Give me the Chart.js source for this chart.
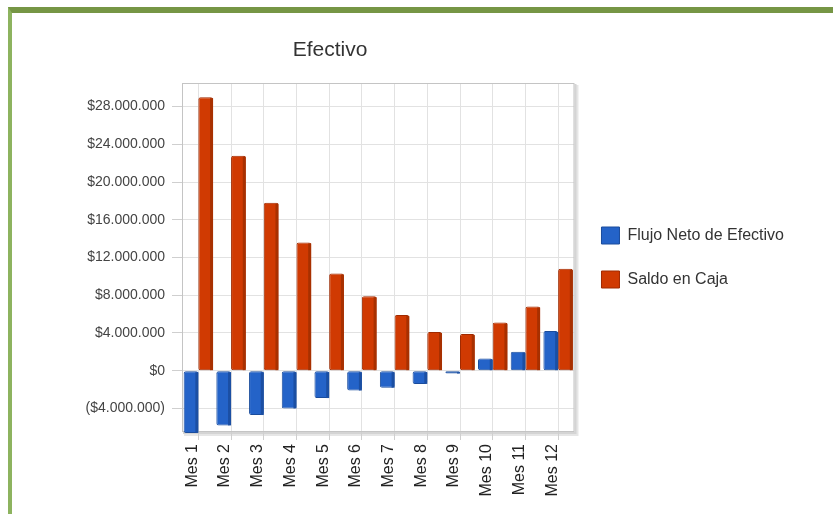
<!DOCTYPE html>
<html>
<head>
<meta charset="utf-8">
<script src="https://cdn.jsdelivr.net/npm/chart.js@4"></script>
<style>
  html, body { margin: 0; padding: 0; background: #fff; }
  #wrap { position: relative; width: 833px; height: 514px; overflow: hidden; }
  #wrap canvas { position: absolute; left: 0; top: 0; }
  #frame {
    position: absolute; left: 8px; top: 7px; width: 840px; height: 520px;
    border-top: 6px solid #769645; border-left: 4px solid #8db35f;
    box-sizing: border-box; pointer-events: none;
  }
</style>
</head>
<body>
<div id="wrap">
  <canvas id="chart" width="833" height="514"></canvas>
  <div id="frame"></div>
</div>
<script>
// Chart content
const TITLE = 'Efectivo';
const MESES = ['Mes 1', 'Mes 2', 'Mes 3', 'Mes 4', 'Mes 5', 'Mes 6',
               'Mes 7', 'Mes 8', 'Mes 9', 'Mes 10', 'Mes 11', 'Mes 12'];
const FLUJO_NETO = [-6600000, -5800000, -4700000, -4000000, -2900000, -2100000,
                    -1800000, -1400000, -300000, 1300000, 2000000, 4200000];
const SALDO_CAJA = [29000000, 22800000, 17800000, 13600000, 10300000, 7900000,
                    5900000, 4100000, 3900000, 5100000, 6800000, 10800000];
const SERIES_NAMES = ['Flujo Neto de Efectivo', 'Saldo en Caja'];
const Y_TICKS = [-4000000, 0, 4000000, 8000000, 12000000, 16000000,
                 20000000, 24000000, 28000000];
const Y_MIN = -6500000;
const Y_MAX = 30500000;

const FONT = '"Liberation Sans", Arial, sans-serif';

function pesos(v) {
  const s = Math.abs(v).toString().replace(/\B(?=(\d{3})+(?!\d))/g, '.');
  return v < 0 ? '($' + s + ')' : '$' + s;
}

// White plot panel with a soft drop shadow, and a grey outline on top of the grid
const plotFrame = {
  id: 'plotFrame',
  beforeDraw(chart) {
    const { ctx, chartArea: a } = chart;
    ctx.save();
    ctx.fillStyle = '#e6e6e6';
    ctx.fillRect(a.left + 2, a.top + 2, a.right - a.left + 2, a.bottom - a.top + 2);
    ctx.fillStyle = '#d4d4d4';
    ctx.fillRect(a.left + 1, a.top + 1, a.right - a.left + 1, a.bottom - a.top + 1);
    ctx.fillStyle = '#ffffff';
    ctx.fillRect(a.left, a.top, a.right - a.left, a.bottom - a.top);
    ctx.restore();
  },
  beforeDatasetsDraw(chart) {
    const { ctx, chartArea: a } = chart;
    ctx.save();
    ctx.strokeStyle = '#c4c4c4';
    ctx.lineWidth = 1;
    ctx.strokeRect(a.left + 0.5, a.top + 0.5, a.right - a.left - 1, a.bottom - a.top - 1);
    ctx.restore();
  }
};

// Darker side face on every bar for a raised look
const barSide = {
  id: 'barSide',
  afterDatasetsDraw(chart) {
    const ctx = chart.ctx;
    chart.data.datasets.forEach((ds, i) => {
      const meta = chart.getDatasetMeta(i);
      meta.data.forEach(bar => {
        const { x, y, base, width } = bar.getProps(['x', 'y', 'base', 'width'], true);
        const top = Math.min(y, base);
        const h = Math.abs(base - y);
        if (h < 1) return;
        ctx.save();
        ctx.fillStyle = ds.sideColor;
        ctx.fillRect(x + width / 2 - 3, top + 1, 3, h - 1);
        ctx.restore();
      });
    });
  }
};

// Chart heading, centred over the axis labels and plot
const heading = {
  id: 'heading',
  afterDraw(chart) {
    const ctx = chart.ctx;
    ctx.save();
    ctx.font = '21px ' + FONT;
    ctx.fillStyle = '#333';
    ctx.textAlign = 'center';
    ctx.textBaseline = 'middle';
    ctx.fillText(TITLE, 330, 50);
    ctx.restore();
  }
};

new Chart(document.getElementById('chart'), {
  type: 'bar',
  data: {
    labels: MESES,
    datasets: [
      {
        label: SERIES_NAMES[0],
        data: FLUJO_NETO,
        backgroundColor: '#2463c8',
        borderColor: '#1a4c9c',
        sideColor: '#1b4fa3',
        borderWidth: 1,
        borderRadius: 2,
        borderSkipped: false,
        clip: 4
      },
      {
        label: SERIES_NAMES[1],
        data: SALDO_CAJA,
        backgroundColor: '#d03a02',
        borderColor: '#a02a00',
        sideColor: '#a83000',
        borderWidth: 1,
        borderRadius: 2,
        borderSkipped: false,
        clip: 4
      }
    ]
  },
  options: {
    responsive: false,
    animation: false,
    events: [],
    layout: { padding: { top: 83, left: 0, right: 39, bottom: 0 } },
    datasets: { bar: { categoryPercentage: 0.9, barPercentage: 1.0 } },
    scales: {
      x: {
        afterFit(scale) { scale.height = 82; },
        grid: {
          offset: false,
          color: '#e2e2e2',
          tickColor: '#cfcfcf',
          tickLength: 8,
          drawTicks: true
        },
        border: { display: false },
        ticks: {
          minRotation: 90,
          maxRotation: 90,
          autoSkip: false,
          padding: 4,
          labelOffset: -6,
          color: '#222',
          font: { family: FONT, size: 16 }
        }
      },
      y: {
        min: Y_MIN,
        max: Y_MAX,
        afterFit(scale) { scale.width = 182; },
        afterBuildTicks(scale) { scale.ticks = Y_TICKS.map(v => ({ value: v })); },
        grid: {
          color: '#e2e2e2',
          tickColor: '#cfcfcf',
          tickLength: 10
        },
        border: { display: false },
        ticks: {
          padding: 7,
          color: '#444',
          font: { family: FONT, size: 14 },
          callback: v => pesos(v)
        }
      }
    },
    plugins: {
      title: { display: false },
      tooltip: { enabled: false },
      legend: {
        position: 'right',
        fullSize: false,
        maxWidth: 260,
        labels: {
          boxWidth: 18,
          boxHeight: 17,
          padding: 27,
          color: '#333',
          font: { family: FONT, size: 16, lineHeight: 1 }
        }
      }
    }
  },
  plugins: [plotFrame, barSide, heading]
});
</script>
</body>
</html>
